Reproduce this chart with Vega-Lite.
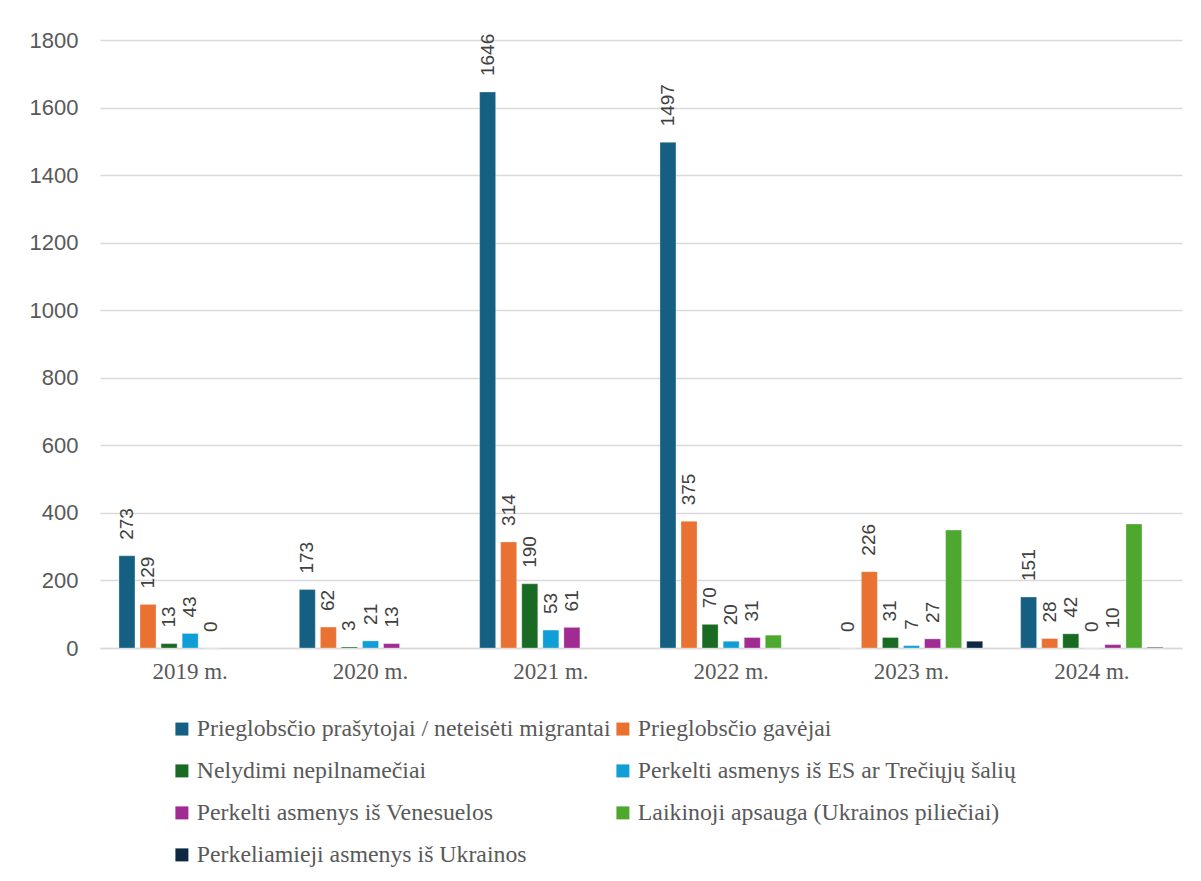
{
  "$schema": "https://vega.github.io/schema/vega-lite/v6.json",
  "width": 1082,
  "height": 608,
  "autosize": "none",
  "padding": {"left": 100, "top": 40, "right": 19, "bottom": 233},
  "background": "white",
  "data": {
    "values": [
      {"year": "2019 m.", "series": "Prieglobsčio prašytojai / neteisėti migrantai", "value": 273},
      {"year": "2019 m.", "series": "Prieglobsčio gavėjai", "value": 129},
      {"year": "2019 m.", "series": "Nelydimi nepilnamečiai", "value": 13},
      {"year": "2019 m.", "series": "Perkelti asmenys iš ES ar Trečiųjų šalių", "value": 43},
      {"year": "2019 m.", "series": "Perkelti asmenys iš Venesuelos", "value": 0},
      {"year": "2020 m.", "series": "Prieglobsčio prašytojai / neteisėti migrantai", "value": 173},
      {"year": "2020 m.", "series": "Prieglobsčio gavėjai", "value": 62},
      {"year": "2020 m.", "series": "Nelydimi nepilnamečiai", "value": 3},
      {"year": "2020 m.", "series": "Perkelti asmenys iš ES ar Trečiųjų šalių", "value": 21},
      {"year": "2020 m.", "series": "Perkelti asmenys iš Venesuelos", "value": 13},
      {"year": "2021 m.", "series": "Prieglobsčio prašytojai / neteisėti migrantai", "value": 1646},
      {"year": "2021 m.", "series": "Prieglobsčio gavėjai", "value": 314},
      {"year": "2021 m.", "series": "Nelydimi nepilnamečiai", "value": 190},
      {"year": "2021 m.", "series": "Perkelti asmenys iš ES ar Trečiųjų šalių", "value": 53},
      {"year": "2021 m.", "series": "Perkelti asmenys iš Venesuelos", "value": 61},
      {"year": "2022 m.", "series": "Prieglobsčio prašytojai / neteisėti migrantai", "value": 1497},
      {"year": "2022 m.", "series": "Prieglobsčio gavėjai", "value": 375},
      {"year": "2022 m.", "series": "Nelydimi nepilnamečiai", "value": 70},
      {"year": "2022 m.", "series": "Perkelti asmenys iš ES ar Trečiųjų šalių", "value": 20},
      {"year": "2022 m.", "series": "Perkelti asmenys iš Venesuelos", "value": 31},
      {"year": "2022 m.", "series": "Laikinoji apsauga (Ukrainos piliečiai)", "value": 38},
      {"year": "2023 m.", "series": "Prieglobsčio prašytojai / neteisėti migrantai", "value": 0},
      {"year": "2023 m.", "series": "Prieglobsčio gavėjai", "value": 226},
      {"year": "2023 m.", "series": "Nelydimi nepilnamečiai", "value": 31},
      {"year": "2023 m.", "series": "Perkelti asmenys iš ES ar Trečiųjų šalių", "value": 7},
      {"year": "2023 m.", "series": "Perkelti asmenys iš Venesuelos", "value": 27},
      {"year": "2023 m.", "series": "Laikinoji apsauga (Ukrainos piliečiai)", "value": 349},
      {"year": "2023 m.", "series": "Perkeliamieji asmenys iš Ukrainos", "value": 20},
      {"year": "2024 m.", "series": "Prieglobsčio prašytojai / neteisėti migrantai", "value": 151},
      {"year": "2024 m.", "series": "Prieglobsčio gavėjai", "value": 28},
      {"year": "2024 m.", "series": "Nelydimi nepilnamečiai", "value": 42},
      {"year": "2024 m.", "series": "Perkelti asmenys iš ES ar Trečiųjų šalių", "value": 0},
      {"year": "2024 m.", "series": "Perkelti asmenys iš Venesuelos", "value": 10},
      {"year": "2024 m.", "series": "Laikinoji apsauga (Ukrainos piliečiai)", "value": 367},
      {"year": "2024 m.", "series": "Perkeliamieji asmenys iš Ukrainos", "value": 2}
    ]
  },
  "encoding": {
    "x": {
      "field": "year", "type": "nominal", "title": null,
      "scale": {"paddingInner": 0, "paddingOuter": 0},
      "axis": {
        "labelAngle": 0, "labelFont": "Liberation Serif", "labelFontSize": 23,
        "labelColor": "#595959", "labelPadding": 12, "ticks": false,
        "domainColor": "#d9d9d9", "domainWidth": 1.5
      }
    },
    "xOffset": {
      "field": "series", "type": "nominal",
      "scale": {
        "domain": [
          "Prieglobsčio prašytojai / neteisėti migrantai",
          "Prieglobsčio gavėjai",
          "Nelydimi nepilnamečiai",
          "Perkelti asmenys iš ES ar Trečiųjų šalių",
          "Perkelti asmenys iš Venesuelos",
          "Laikinoji apsauga (Ukrainos piliečiai)",
          "Perkeliamieji asmenys iš Ukrainos"
        ],
        "paddingInner": 0.24, "paddingOuter": 0.9
      }
    },
    "y": {
      "field": "value", "type": "quantitative", "title": null,
      "scale": {"domain": [0, 1800], "nice": false},
      "axis": {
        "values": [0, 200, 400, 600, 800, 1000, 1200, 1400, 1600, 1800],
        "format": "d",
        "labelFont": "Liberation Sans", "labelFontSize": 22, "labelColor": "#595959",
        "labelPadding": 22, "ticks": false, "domain": false,
        "gridColor": "#d9d9d9", "gridWidth": 1.5
      }
    }
  },
  "layer": [
    {
      "mark": {"type": "bar", "stroke": "white", "strokeWidth": 0.5, "strokeOpacity": 0.6},
      "encoding": {
        "color": {
          "field": "series", "type": "nominal", "title": null,
          "scale": {
            "domain": [
              "Prieglobsčio prašytojai / neteisėti migrantai",
              "Prieglobsčio gavėjai",
              "Nelydimi nepilnamečiai",
              "Perkelti asmenys iš ES ar Trečiųjų šalių",
              "Perkelti asmenys iš Venesuelos",
              "Laikinoji apsauga (Ukrainos piliečiai)",
              "Perkeliamieji asmenys iš Ukrainos"
            ],
            "range": ["#156082", "#E97132", "#196B24", "#0F9ED5", "#A02B93", "#4EA72E", "#0E2841"]
          },
          "legend": {
            "orient": "none", "legendX": 70, "legendY": 677,
            "direction": "horizontal",
            "columns": 2, "columnPadding": 0, "rowPadding": 17,
            "symbolType": "square", "symbolSize": 169, "symbolStrokeWidth": 0,
            "labelFont": "Liberation Serif", "labelFontSize": 23.8, "labelColor": "#595959",
            "labelLimit": 700, "labelOffset": 3
          }
        }
      }
    },
    {
      "transform": [
        {"filter": {"field": "series", "oneOf": [
          "Prieglobsčio prašytojai / neteisėti migrantai",
          "Prieglobsčio gavėjai",
          "Nelydimi nepilnamečiai",
          "Perkelti asmenys iš ES ar Trečiųjų šalių",
          "Perkelti asmenys iš Venesuelos"
        ]}}
      ],
      "mark": {
        "type": "text", "angle": -90, "align": "left", "baseline": "middle",
        "dx": 16, "font": "Liberation Sans", "fontSize": 19, "color": "#404040"
      },
      "encoding": {
        "text": {"field": "value", "type": "quantitative"}
      }
    }
  ],
  "config": {
    "view": {"stroke": null}
  }
}
